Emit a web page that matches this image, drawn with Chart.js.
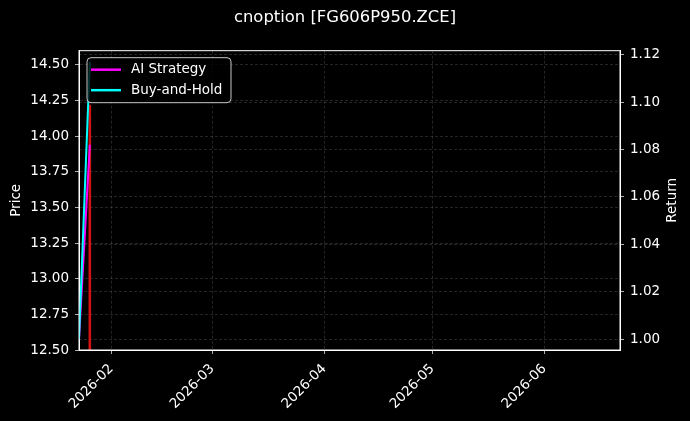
<!DOCTYPE html>
<html>
<head>
<meta charset="utf-8">
<script src="https://cdn.jsdelivr.net/npm/chart.js@4.4.1/dist/chart.umd.min.js"></script>
<style>
    html, body { margin: 0; padding: 0; background: #000; }
    #wrap { width: 690px; height: 421px; }
</style>
</head>
<body>
<div id="wrap"><canvas id="canvas"></canvas></div>
<script>
// values
const returnDates = ['2026-01-23', '2026-01-26'];
const aiStrategy = [1.000, 1.082];
const buyAndHold = [1.000, 1.117];
const priceDates = ['2026-01-26', '2026-01-26'];
const price = [12.40, 14.22];

const xTickLabels = ['2026-02', '2026-03', '2026-04', '2026-05', '2026-06'];
const priceTicks = [12.50, 12.75, 13.00, 13.25, 13.50, 13.75, 14.00, 14.25, 14.50];
const returnTicks = [1.00, 1.02, 1.04, 1.06, 1.08, 1.10, 1.12];
const xRange = ['2026-01-23', '2026-06-22'];
const priceRange = [12.50, 14.60];
const returnRange = [0.9954, 1.1217];

// dates -> days since 2026-01-01 (no date adapter available)
const dayNum = s => {
    const [y, m, d] = s.split('-').map(Number);
    return (Date.UTC(y, m - 1, d) - Date.UTC(2026, 0, 1)) / 86400000;
};
const xTicks = xTickLabels.map(l => dayNum(l + '-01'));
const pairs = (xs, ys) => xs.map((x, i) => ({ x: dayNum(x), y: ys[i] }));

const FONT = 'DejaVu Sans';
const gridColor = 'rgba(150,150,150,0.35)';

const frameAndLegend = {
    id: 'frameAndLegend',
    afterDatasetsDraw(chart) {
        const { ctx, chartArea: ca } = chart;
        ctx.save();
        ctx.strokeStyle = '#ffffff';
        ctx.lineWidth = 1;
        ctx.strokeRect(ca.left, ca.top, ca.right - ca.left, ca.bottom - ca.top);

        // legend box (top-left, inside the axes)
        const items = chart.data.datasets.filter(d => d.showInLegend);
        const bx = ca.left + 8, by = ca.top + 7, bw = 144, bh = 45;
        ctx.beginPath();
        ctx.roundRect(bx, by, bw, bh, 4);
        ctx.fillStyle = 'rgba(0,0,0,0.8)';
        ctx.fill();
        ctx.strokeStyle = 'rgba(220,220,220,0.9)';
        ctx.stroke();
        ctx.font = '13.5px "' + FONT + '"';
        ctx.textBaseline = 'middle';
        items.forEach((d, i) => {
            const y = by + 12 + i * 20.5;
            ctx.strokeStyle = d.borderColor;
            ctx.lineWidth = 2.5;
            ctx.beginPath();
            ctx.moveTo(bx + 4, y);
            ctx.lineTo(bx + 34, y);
            ctx.stroke();
            ctx.fillStyle = '#ffffff';
            ctx.fillText(d.label, bx + 44, y);
        });

        // right axis title, reading bottom-to-top like matplotlib
        ctx.translate(ca.right + 52, (ca.top + ca.bottom) / 2);
        ctx.rotate(-Math.PI / 2);
        ctx.textAlign = 'center';
        ctx.fillStyle = '#ffffff';
        ctx.fillText('Return', 0, 0);
        ctx.restore();
    }
};

new Chart(document.getElementById('canvas'), {
    type: 'line',
    data: {
        datasets: [
            {
                label: 'AI Strategy',
                data: pairs(returnDates, aiStrategy),
                yAxisID: 'y1',
                borderColor: '#ff00ff',
                borderWidth: 2,
                order: 1,
                showInLegend: true,
            },
            {
                label: 'Buy-and-Hold',
                data: pairs(returnDates, buyAndHold),
                yAxisID: 'y1',
                borderColor: '#00ffff',
                borderWidth: 2,
                order: 0,
                showInLegend: true,
            },
            {
                label: 'Price',
                data: pairs(priceDates, price),
                yAxisID: 'y',
                borderColor: 'rgba(235,20,20,0.9)',
                borderWidth: 2.6,
                order: 2,
            },
        ]
    },
    options: {
        responsive: true,
        maintainAspectRatio: false,
        animation: false,
        layout: { padding: 0 },
        elements: { point: { radius: 0 }, line: { tension: 0 } },
        datasets: { line: { clip: 0 } },
        plugins: {
            legend: { display: false },
            tooltip: { enabled: false },
            title: {
                display: true,
                text: 'cnoption [FG606P950.ZCE]',
                color: '#ffffff',
                font: { family: FONT, size: 16.4, weight: 'normal' },
                padding: { top: 8, bottom: 23 },
            },
        },
        scales: {
            x: {
                type: 'linear',
                min: dayNum(xRange[0]),
                max: dayNum(xRange[1]),
                afterBuildTicks: s => { s.ticks = xTicks.map(v => ({ value: v })); },
                afterFit: s => { s.height = 71; },
                ticks: {
                    autoSkip: false,
                    maxRotation: 45,
                    minRotation: 45,
                    color: '#ffffff',
                    padding: 7,
                    font: { family: FONT, size: 13.5 },
                    callback: v => xTickLabels[xTicks.indexOf(v)],
                },
                grid: { color: gridColor, lineWidth: 0.7, tickColor: '#ffffff', tickLength: 4 },
                border: { color: '#ffffff', width: 1, dash: [3, 2] },
            },
            y: {
                position: 'left',
                min: priceRange[0],
                max: priceRange[1],
                afterBuildTicks: s => { s.ticks = priceTicks.map(v => ({ value: v })); },
                afterFit: s => { s.width = 79; },
                ticks: {
                    color: '#ffffff',
                    padding: 6,
                    font: { family: FONT, size: 13.5 },
                    callback: v => v.toFixed(2),
                },
                title: {
                    display: true,
                    text: 'Price',
                    color: '#ffffff',
                    font: { family: FONT, size: 13.5 },
                    padding: { top: 8, bottom: 0 },
                },
                grid: { color: gridColor, lineWidth: 0.7, tickColor: '#ffffff', tickLength: 4 },
                border: { color: '#ffffff', width: 1, dash: [3, 2] },
            },
            y1: {
                position: 'right',
                min: returnRange[0],
                max: returnRange[1],
                afterBuildTicks: s => { s.ticks = returnTicks.map(v => ({ value: v })); },
                afterFit: s => { s.width = 70; },
                ticks: {
                    color: '#ffffff',
                    padding: 6,
                    font: { family: FONT, size: 13.5 },
                    callback: v => v.toFixed(2),
                },
                grid: { color: gridColor, lineWidth: 0.7, tickColor: '#ffffff', tickLength: 4 },
                border: { color: '#ffffff', width: 1, dash: [3, 2] },
            },
        },
    },
    plugins: [frameAndLegend],
});
</script>
</body>
</html>
